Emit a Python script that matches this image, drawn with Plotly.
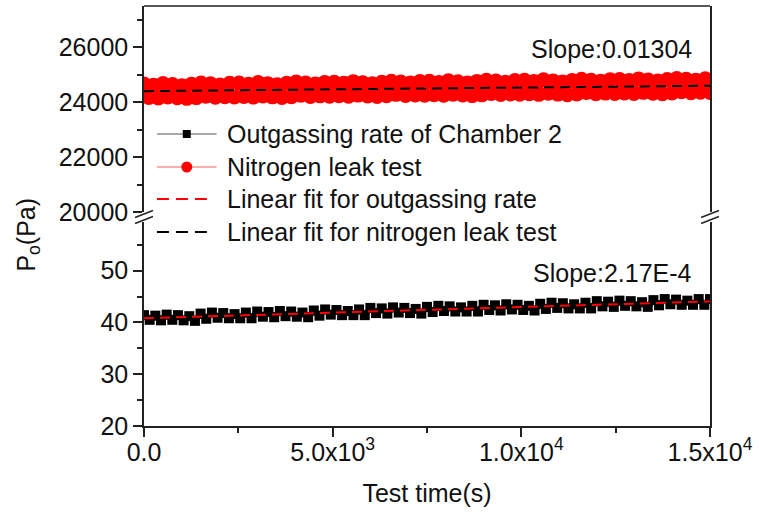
import numpy as np
import plotly.graph_objects as go

# ---------------- data ----------------
n2_pressure = [
    24658, 24168, 24618, 24148, 24678, 24188, 24638, 24158, 24598, 24138,
    24655, 24165, 24695, 24215, 24665, 24175, 24625, 24195, 24685, 24185,
    24692, 24202, 24652, 24182, 24712, 24222, 24672, 24192, 24632, 24172,
    24688, 24198, 24728, 24248, 24698, 24208, 24658, 24228, 24718, 24218,
    24725, 24235, 24685, 24215, 24745, 24255, 24705, 24225, 24665, 24205,
    24722, 24232, 24762, 24282, 24732, 24242, 24692, 24262, 24752, 24252,
    24758, 24268, 24718, 24248, 24778, 24288, 24738, 24258, 24698, 24238,
    24755, 24265, 24795, 24315, 24765, 24275, 24725, 24295, 24785, 24285,
    24792, 24302, 24752, 24282, 24812, 24322, 24772, 24292, 24732, 24272,
    24788, 24298, 24828, 24348, 24798, 24308, 24758, 24328, 24818, 24318,
    24825, 24335, 24785, 24315, 24845, 24355, 24805, 24325, 24765, 24305,
    24822, 24332, 24862, 24382, 24832, 24342, 24792, 24362, 24852, 24352,
]
n2_time = np.linspace(0, 15000, len(n2_pressure))

og_pressure = [
    41.4, 40.5, 41.3, 40.4, 41.5, 40.5, 41.4, 40.4, 41.2, 40.3,
    41.7, 40.7, 41.9, 40.9, 41.8, 40.8, 41.6, 40.8, 41.9, 40.8,
    42.1, 41.1, 42.0, 41.0, 42.2, 41.2, 42.1, 41.1, 41.9, 41.0,
    42.3, 41.3, 42.5, 41.5, 42.4, 41.4, 42.2, 41.4, 42.5, 41.4,
    42.8, 41.8, 42.7, 41.7, 42.9, 41.9, 42.8, 41.8, 42.6, 41.7,
    43.0, 42.0, 43.2, 42.2, 43.1, 42.1, 42.9, 42.1, 43.2, 42.1,
    43.4, 42.4, 43.3, 42.3, 43.5, 42.5, 43.4, 42.4, 43.2, 42.3,
    43.6, 42.6, 43.8, 42.8, 43.7, 42.7, 43.5, 42.7, 43.8, 42.7,
    44.1, 43.1, 44.0, 43.0, 44.2, 43.2, 44.1, 43.1, 43.9, 43.0,
    44.3, 43.3, 44.5, 43.5, 44.4, 43.4, 44.2, 43.4, 44.5, 43.4,
    44.5,
]
og_time = np.linspace(0, 15000, len(og_pressure))

# linear fits: (intercept, slope)
n2_fit = (24400.0, 0.01304)
og_fit = (40.8, 2.17e-4)
fit_time = [0, 15000]

x_tickvals = [0, 5000, 10000, 15000]
x_ticktext = ["0.0", "5.0x10<sup>3</sup>", "1.0x10<sup>4</sup>", "1.5x10<sup>4</sup>"]
top_tickvals = [20000, 22000, 24000, 26000]
bot_tickvals = [20, 30, 40, 50]

legend_labels = [
    "Outgassing rate of Chamber 2",
    "Nitrogen leak test",
    "Linear fit for outgassing rate",
    "Linear fit for nitrogen leak test",
]

# ---------------- layout geometry (pixels) ----------------
W, H = 759, 519
L, R, T, B = 144, 713, 6, 426
PW, PH = R - L, B - T


def px(x):
    return (x - L) / PW


def py(y):
    return (B - y) / PH


break_top = 212   # bottom of upper segment (pixel y)
break_bot = 222   # top of lower segment (pixel y)

FONT = "Liberation Sans, Arial, sans-serif"
TXT = "#111111"
AX = "#222222"

fig = go.Figure()

fig.add_trace(go.Scatter(
    x=n2_time, y=n2_pressure, yaxis="y2", mode="lines+markers",
    line=dict(color="#ff0000", width=4),
    marker=dict(symbol="circle", size=15, color="#ff0000"),
    showlegend=False, name=legend_labels[1]))

fig.add_trace(go.Scatter(
    x=og_time, y=og_pressure, yaxis="y", mode="lines+markers",
    line=dict(color="#000000", width=6),
    marker=dict(symbol="square", size=10, color="#000000"),
    showlegend=False, name=legend_labels[0]))

fig.add_trace(go.Scatter(
    x=fit_time, y=[n2_fit[0] + n2_fit[1] * t for t in fit_time], yaxis="y2",
    mode="lines", line=dict(color="#000000", width=2, dash="10px,6px"),
    showlegend=False, name=legend_labels[3]))

fig.add_trace(go.Scatter(
    x=fit_time, y=[og_fit[0] + og_fit[1] * t for t in fit_time], yaxis="y",
    mode="lines", line=dict(color="#ff0000", width=2, dash="10px,6px"),
    showlegend=False, name=legend_labels[2]))

axis_common = dict(
    showline=True, linecolor=AX, linewidth=1.5, ticks="outside", ticklen=9,
    tickwidth=1.5, tickcolor=AX, showgrid=False, zeroline=False,
    tickfont=dict(family=FONT, size=25, color=TXT),
)

fig.update_layout(
    width=W, height=H,
    margin=dict(l=L, r=W - R, t=T, b=H - B),
    paper_bgcolor="white", plot_bgcolor="white",
    xaxis=dict(range=[0, 15000], tickvals=x_tickvals, ticktext=x_ticktext,
               anchor="y", ticklabelstandoff=-6,
               minor=dict(dtick=2500, tick0=0, ticks="outside", ticklen=5,
                          tickwidth=1.5, tickcolor=AX),
               title=dict(text="Test time(s)", standoff=20,
                          font=dict(family=FONT, size=25, color=TXT)),
               **axis_common),
    yaxis=dict(domain=[0, py(break_bot)],
               range=[20, 20 + (B - break_bot) / 51.8 * 10],
               tickvals=bot_tickvals, mirror=True, anchor="x",
               ticklabelstandoff=0,
               minor=dict(dtick=5, tick0=0, ticks="outside", ticklen=5,
                          tickwidth=1.5, tickcolor=AX),
               **axis_common),
    yaxis2=dict(domain=[py(break_top), 1],
                range=[20000, 20000 + (break_top - T) / 27.47 * 1000],
                tickvals=top_tickvals, tickformat="d", mirror=True, anchor="x",
                ticklabelstandoff=0,
                minor=dict(dtick=1000, tick0=0, ticks="outside", ticklen=5,
                           tickwidth=1.5, tickcolor=AX),
                **axis_common),
)

shapes = []
# top frame line
shapes.append(dict(type="line", xref="paper", yref="paper", x0=0, x1=1, y0=1, y1=1,
                   line=dict(color=AX, width=1.5)))
# break marks on both sides
for xc in (L, R):
    for yc in (break_top + 2, break_bot - 2):
        shapes.append(dict(type="line", xref="paper", yref="paper",
                           x0=px(xc - 9), y0=py(yc + 3.5), x1=px(xc + 9), y1=py(yc - 3.5),
                           line=dict(color=AX, width=1.5)))

# manual legend
rows_y = [134, 167, 199, 232]
sym_x0, sym_x1, sym_xm = 157, 217, 187
shapes.append(dict(type="line", xref="paper", yref="paper",
                   x0=px(sym_x0), x1=px(sym_x1), y0=py(rows_y[0]), y1=py(rows_y[0]),
                   line=dict(color="#555555", width=1)))
shapes.append(dict(type="rect", xref="paper", yref="paper",
                   x0=px(sym_xm - 4), x1=px(sym_xm + 4), y0=py(rows_y[0] + 4), y1=py(rows_y[0] - 4),
                   fillcolor="#000000", line=dict(width=0)))
shapes.append(dict(type="line", xref="paper", yref="paper",
                   x0=px(sym_x0), x1=px(sym_x1), y0=py(rows_y[1]), y1=py(rows_y[1]),
                   line=dict(color="#ff6060", width=1)))
shapes.append(dict(type="circle", xref="paper", yref="paper",
                   x0=px(sym_xm - 5.5), x1=px(sym_xm + 5.5), y0=py(rows_y[1] + 5.5), y1=py(rows_y[1] - 5.5),
                   fillcolor="#ff0000", line=dict(width=0)))
shapes.append(dict(type="line", xref="paper", yref="paper",
                   x0=px(sym_x0), x1=px(sym_x1 - 5), y0=py(rows_y[2]), y1=py(rows_y[2]),
                   line=dict(color="#ff0000", width=2, dash="12px,7px")))
shapes.append(dict(type="line", xref="paper", yref="paper",
                   x0=px(sym_x0), x1=px(sym_x1 - 5), y0=py(rows_y[3]), y1=py(rows_y[3]),
                   line=dict(color="#000000", width=2, dash="12px,7px")))

annotations = []
for lab, yy in zip(legend_labels, rows_y):
    annotations.append(dict(text=lab, xref="paper", yref="paper", x=px(225), y=py(yy),
                            xanchor="left", yanchor="middle", showarrow=False,
                            font=dict(family=FONT, size=25, color=TXT)))

annotations.append(dict(text="Slope:0.01304", xref="paper", yref="paper",
                        x=px(697), y=py(49), xanchor="right", yanchor="middle",
                        showarrow=False, font=dict(family=FONT, size=25, color=TXT)))
annotations.append(dict(text="Slope:2.17E-4", xref="paper", yref="paper",
                        x=px(697), y=py(273), xanchor="right", yanchor="middle",
                        showarrow=False, font=dict(family=FONT, size=25, color=TXT)))
annotations.append(dict(text="P<sub>o</sub>(Pa)", xref="paper", yref="paper",
                        x=px(27), y=py(235), xanchor="center", yanchor="middle",
                        textangle=-90, showarrow=False,
                        font=dict(family=FONT, size=25, color=TXT)))

fig.update_layout(shapes=shapes, annotations=annotations)

fig.write_html("out.html")
